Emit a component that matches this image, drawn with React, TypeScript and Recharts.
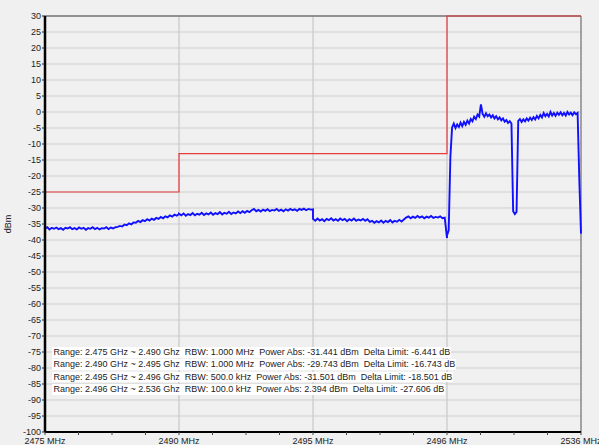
import React from 'react';
import { LineChart, Line, XAxis, YAxis, CartesianGrid, ReferenceLine } from 'recharts';

// Frequency segments (each drawn with equal width, like the analyzer does)
const segmentBounds = [2475, 2490, 2495, 2496, 2536];
const limitLevels = [-25, -13, -13, 30];
const yTicks = [30, 25, 20, 15, 10, 5, 0, -5, -10, -15, -20, -25, -30, -35, -40, -45, -50, -55, -60, -65, -70, -75, -80, -85, -90, -95, -100];

// measured trace per segment (dBm), evenly spaced inside each segment
const trace1 = [
  -36.4, -36.0, -36.7, -36.2, -36.5, -36.1, -36.6, -36.3, -36.8, -36.2,
  -36.4, -36.0, -36.6, -36.3, -36.7, -36.1, -36.5, -36.2, -36.8, -36.3,
  -36.5, -36.0, -36.6, -36.2, -36.7, -36.3, -36.4, -36.0, -36.6, -36.1,
  -36.4, -36.0, -35.9, -35.6, -35.8, -35.2, -35.4, -34.8, -35.1, -34.5,
  -34.6, -34.0, -34.4, -33.8, -34.1, -33.5, -33.9, -33.3, -33.7, -33.1,
  -33.4, -32.8, -33.2, -32.6, -32.9, -32.3, -32.7, -32.1, -32.4, -31.9,
];
const trace2 = [
  -31.8, -32.3, -31.7, -32.4, -31.9, -32.2, -31.6, -32.3, -31.8, -32.1,
  -31.5, -32.2, -31.7, -32.0, -31.4, -32.1, -31.6, -31.9, -31.3, -32.0,
  -31.5, -31.8, -31.2, -31.9, -31.4, -31.7, -31.1, -31.6, -31.0, -31.5,
  -30.9, -31.3, -30.7, -30.3, -31.0, -30.6, -31.1, -30.5, -30.9, -30.4,
  -31.0, -30.6, -30.8, -30.3, -30.9, -30.5, -31.0, -30.4, -30.8, -30.3,
  -30.7, -30.4, -30.9, -30.3, -30.6, -30.2, -30.7, -30.3, -30.5, -30.4,
];
const trace3 = [
  -33.4, -34.0, -33.3, -33.9, -33.5, -34.1, -33.4, -33.8, -33.2, -33.9,
  -33.5, -34.0, -33.3, -33.8, -33.4, -34.1, -33.5, -33.9, -33.3, -34.0,
  -33.6, -33.9, -33.4, -34.0, -33.5, -34.3, -34.0, -34.6, -34.1, -34.5,
  -33.9, -34.6, -34.0, -34.4, -33.8, -34.5, -34.0, -34.3, -33.7, -34.2,
  -33.6, -33.0, -32.6, -33.2, -32.7, -33.1, -32.5, -33.0, -32.6, -33.2,
  -32.7, -33.0, -32.5, -33.1, -32.8, -33.0, -32.6, -33.2, -33.0, -39.4,
];
const trace4 = [
  -38.6, -37.0, -14.0, -4.8, -3.6, -5.0, -3.9, -4.7, -3.3, -4.4,
  -3.1, -4.0, -2.7, -3.6, -2.2, -2.9, -1.5, -2.2, -0.8, -1.4,
  2.4, -0.6, -1.5, -0.4, -1.3, -0.8, -1.7, -1.0, -2.0, -1.3,
  -2.3, -1.7, -2.6, -2.0, -3.0, -2.5, -3.4, -2.9, -3.6, -31.0,
  -31.9, -31.2, -2.8, -2.2, -3.1, -2.3, -2.9, -2.0, -2.7, -1.8,
  -2.5, -1.6, -2.3, -1.2, -2.0, -0.9, -1.7, -0.3, -1.3, -0.6,
  -1.4, 0.0, -1.1, -0.3, -1.2, -0.2, -0.9, -0.1, -1.0, -0.3,
  -1.1, 0.0, -0.8, -0.2, -1.0, -0.1, -0.7, -0.3, -21.0, -38.0,
];

const rangeLabels = ['2.475 GHz ~ 2.490 Ghz', '2.490 GHz ~ 2.495 Ghz', '2.495 GHz ~ 2.496 Ghz', '2.496 GHz ~ 2.536 Ghz'];
const rbwLabels = ['1.000 MHz', '1.000 MHz', '500.0 kHz', '100.0 kHz'];
const powerAbs = ['-31.441', '-29.743', '-31.501', '2.394'];
const deltaLimit = ['-6.441', '-16.743', '-18.501', '-27.606'];

const traceData = [trace1, trace2, trace3, trace4].flatMap((vals, s) =>
  vals.map((v, k) => ({ pos: s + k / (vals.length - 1), v }))
);
const limitData = limitLevels.flatMap((lv, s) => [{ pos: s, v: lv }, { pos: s + 1, v: lv }]);

// minor ticks every quarter segment, labels only on segment edges
const xTicks = segmentBounds.flatMap((_, s) =>
  s < segmentBounds.length - 1 ? [s, s + 0.25, s + 0.5, s + 0.75] : [s]
);

const XTick = (props: any) => {
  const { x, y, payload } = props;
  const idx = payload.value;
  if (!Number.isInteger(idx)) return null;
  return (
    <text x={x} y={y + 8} textAnchor="middle" fontSize={9} fill="#222">
      {segmentBounds[idx]} MHz
    </text>
  );
};

export default function App() {
  return (
    <div style={{ position: 'relative', width: 599, height: 445, background: '#f0f0f0', fontFamily: '"Liberation Sans", Arial, sans-serif', overflow: 'hidden' }}>
      <style>{`body{margin:0;background:#f0f0f0}`}</style>
      <LineChart width={599} height={445} margin={{ top: 16, right: 18, bottom: 0, left: 0 }}>
        <CartesianGrid vertical={false} stroke="#cdcdcd" strokeWidth={1.2} />
        <XAxis
          type="number"
          dataKey="pos"
          domain={[0, 4]}
          ticks={xTicks}
          interval={0}
          height={13}
          tickSize={3}
          tickMargin={1}
          axisLine={{ stroke: '#000', strokeWidth: 2 }}
          tickLine={{ stroke: '#444' }}
          tick={<XTick />}
        />
        <YAxis
          type="number"
          domain={[-100, 30]}
          ticks={yTicks}
          interval={0}
          width={45}
          tickSize={3}
          tickMargin={1}
          tick={{ fontSize: 9, fill: '#222' }}
          axisLine={{ stroke: '#000', strokeWidth: 2.5 }}
          tickLine={{ stroke: '#222' }}
          label={{ value: 'dBm', angle: -90, position: 'insideLeft', offset: 8, fontSize: 9, fill: '#222', style: { textAnchor: 'middle' } }}
        />
        <ReferenceLine x={1} stroke="#c8c8c8" strokeWidth={1.2} />
        <ReferenceLine x={2} stroke="#c8c8c8" strokeWidth={1.2} />
        <ReferenceLine x={3} stroke="#c8c8c8" strokeWidth={1.2} />
        <ReferenceLine y={30} stroke="#777" strokeWidth={1.5} />
        <ReferenceLine x={4} stroke="#555" strokeWidth={1} />
        <Line data={limitData} dataKey="v" type="linear" stroke="#e63c3c" strokeWidth={1.2} dot={false} isAnimationActive={false} />
        <Line data={traceData} dataKey="v" type="linear" stroke="#1010ff" strokeWidth={1.9} dot={false} isAnimationActive={false} />
      </LineChart>
      <div style={{ position: 'absolute', left: 52, top: 347, fontSize: 9, color: '#222' }}>
        {rangeLabels.map((r, i) => (
          <div
            key={r}
            style={{ width: 'fit-content', background: '#fff', height: 10.5, lineHeight: '10.5px', marginBottom: 1.9, padding: '0 1px 0 1.5px', whiteSpace: 'pre' }}
          >
            {`Range: ${r}  RBW: ${rbwLabels[i]}  Power Abs: ${powerAbs[i]} dBm  Delta Limit: ${deltaLimit[i]} dB`}
          </div>
        ))}
      </div>
    </div>
  );
}
